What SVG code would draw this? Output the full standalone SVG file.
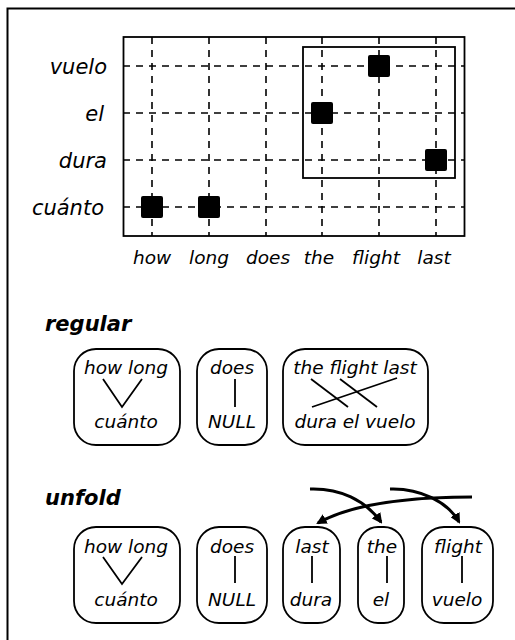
<svg xmlns="http://www.w3.org/2000/svg" width="515" height="640" viewBox="0 0 515 640">
<defs>
<style>
text{font-family:"DejaVu Sans","Liberation Sans",sans-serif;font-style:italic;fill:#000}
.ylab{font-size:21px}
.xlab{font-size:18.5px}
.nt{font-size:18.5px;text-anchor:middle}
.hd{font-size:21px;font-weight:bold}
.grid{stroke:#000;stroke-width:1.6;stroke-dasharray:7 6;fill:none}
.box{fill:none;stroke:#000;stroke-width:1.8}
.pt{fill:#000}
.ln{stroke:#000;stroke-width:1.8;fill:none}
.arr{stroke:#000;stroke-width:3;fill:none;marker-end:url(#ah)}
</style>
<marker id="ah" viewBox="0 0 10 10" refX="8" refY="5" markerWidth="3.5" markerHeight="3.5" orient="auto" markerUnits="strokeWidth">
<path d="M0,0 L10,5 L0,10 z" fill="#000"/>
</marker>
</defs>
<rect width="515" height="640" fill="#fff"/>
<path d="M7.5,640 V8.5 H515" fill="none" stroke="#000" stroke-width="2"/>

<g id="matrix">
<rect class="box" x="123.5" y="37" width="341" height="199"/>
<g class="grid">
<line x1="152" y1="37" x2="152" y2="236"/>
<line x1="209" y1="37" x2="209" y2="236"/>
<line x1="266" y1="37" x2="266" y2="236"/>
<line x1="322" y1="37" x2="322" y2="236"/>
<line x1="379" y1="37" x2="379" y2="236"/>
<line x1="436" y1="37" x2="436" y2="236"/>
<line x1="123" y1="66" x2="464" y2="66"/>
<line x1="123" y1="113" x2="464" y2="113"/>
<line x1="123" y1="160" x2="464" y2="160"/>
<line x1="123" y1="207" x2="464" y2="207"/>
</g>
<rect class="box" x="303" y="47" width="152" height="131"/>
<rect class="pt" x="141" y="196" width="22" height="22" rx="2"/>
<rect class="pt" x="198" y="196" width="22" height="22" rx="2"/>
<rect class="pt" x="311" y="102" width="22" height="22" rx="2"/>
<rect class="pt" x="368" y="55" width="22" height="22" rx="2"/>
<rect class="pt" x="425" y="149" width="22" height="22" rx="2"/>
<g class="ylab" text-anchor="end">
<text x="107" y="74">vuelo</text>
<text x="104" y="121">el</text>
<text x="107" y="168">dura</text>
<text x="104" y="215">cuánto</text>
</g>
<g class="xlab" text-anchor="middle">
<text x="152" y="264">how</text>
<text x="209" y="264">long</text>
<text x="268" y="264">does</text>
<text x="319" y="264">the</text>
<text x="376" y="264">flight</text>
<text x="434" y="264">last</text>
</g>
</g>

<text class="hd" x="45" y="331">regular</text>
<g id="r1">
<rect class="box" x="74" y="349" width="106" height="96" rx="22"/>
<text class="nt" x="126" y="374">how long</text>
<polyline class="ln" points="103,379 122,407 142,379"/>
<text class="nt" x="126" y="428">cuánto</text>
</g>
<g id="r2">
<rect class="box" x="197" y="349" width="70" height="96" rx="22"/>
<text class="nt" x="232" y="374">does</text>
<line class="ln" x1="235" y1="379" x2="235" y2="407"/>
<text class="nt" x="232" y="428">NULL</text>
</g>
<g id="r3">
<rect class="box" x="283" y="349" width="145" height="96" rx="22"/>
<text class="nt" x="355" y="374">the flight last</text>
<line class="ln" x1="311" y1="379" x2="348" y2="407"/>
<line class="ln" x1="340" y1="379" x2="377" y2="407"/>
<line class="ln" x1="312" y1="407" x2="397" y2="378"/>
<text class="nt" x="355" y="428">dura el vuelo</text>
</g>

<text class="hd" x="45" y="505">unfold</text>
<g id="u1">
<rect class="box" x="74" y="527" width="106" height="96" rx="22"/>
<text class="nt" x="126" y="553">how long</text>
<polyline class="ln" points="103,557 122,584 142,557"/>
<text class="nt" x="126" y="606">cuánto</text>
</g>
<g id="u2">
<rect class="box" x="197" y="527" width="70" height="96" rx="22"/>
<text class="nt" x="232" y="553">does</text>
<line class="ln" x1="235" y1="556" x2="235" y2="583"/>
<text class="nt" x="232" y="606">NULL</text>
</g>
<g id="u3">
<rect class="box" x="283" y="527" width="57" height="96" rx="22"/>
<text class="nt" x="312" y="553">last</text>
<line class="ln" x1="312" y1="556" x2="312" y2="583"/>
<text class="nt" x="311" y="606">dura</text>
</g>
<g id="u4">
<rect class="box" x="358" y="527" width="46" height="96" rx="20"/>
<text class="nt" x="382" y="553">the</text>
<line class="ln" x1="387" y1="556" x2="387" y2="583"/>
<text class="nt" x="381" y="606">el</text>
</g>
<g id="u5">
<rect class="box" x="422" y="527" width="71" height="96" rx="22"/>
<text class="nt" x="458" y="553">flight</text>
<line class="ln" x1="462" y1="556" x2="462" y2="583"/>
<text class="nt" x="457" y="606">vuelo</text>
</g>

<g id="connectors">
<path class="arr" d="M310,489 C340,488 365,500 381,522"/>
<path class="arr" d="M390,489 C420,488 448,502 459,522"/>
<path class="arr" d="M472,497 C400,497 350,505 318,523"/>
</g>
</svg>
